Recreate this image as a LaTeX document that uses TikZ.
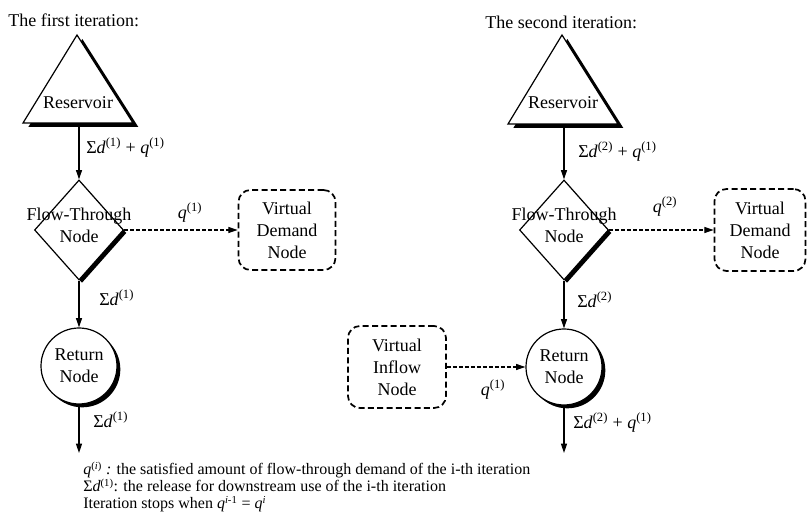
\documentclass[tikz,border=0pt]{standalone}
\usepackage{fontspec}
\setmainfont{Liberation Serif}
\usetikzlibrary{arrows.meta, positioning, shapes.geometric, shadows}

\newcommand{\sumd}[1]{Σ\textit{d}\textsuperscript{(#1)}}
\newcommand{\flowq}[1]{\textit{q}\textsuperscript{(#1)}}

\begin{document}
\begin{tikzpicture}[x=0.75pt, y=0.75pt, >={Triangle[length=7pt, width=4.5pt]},
  every node/.style={font=\fontsize{13.5}{16.5}\selectfont},
  lbl/.style={anchor=west, inner sep=0pt},
  flow/.style={->, line width=0.9pt},
  virtual/.style={->, line width=0.9pt, dash pattern=on 3pt off 1.5pt},
  vbox/.style={draw, line width=1.3pt, dash pattern=on 4.5pt off 2.5pt,
    rounded corners=9pt, align=center, minimum width=72.75pt, minimum height=60pt},
  ftnode/.style={draw, diamond, fill=white, minimum width=66.75pt, minimum height=75pt,
    inner sep=0pt, line width=0.9pt,
    drop shadow={shadow xshift=2.25pt, shadow yshift=-2.25pt, fill=black, opacity=1}},
  retnode/.style={draw, circle, fill=white, align=center, minimum size=57pt,
    inner sep=0pt, line width=0.9pt,
    drop shadow={shadow xshift=2.5pt, shadow yshift=-2.5pt, fill=black, opacity=1}},
  tank/.style={draw, fill=white, line width=0.9pt,
    drop shadow={shadow xshift=4pt, shadow yshift=-3pt, fill=black, opacity=1}}]
  \useasboundingbox (0,0) rectangle (807,528);
  % Left panel: first iteration
  \begin{scope}
    \node[lbl] (title1) at (8,508) {The first iteration:};
    \draw[tank] (77,493) -- (133,405) -- (23,405) -- cycle;
    \node (res1) at (78,425) {Reservoir};
    \coordinate (res1b) at (79,402);
    \node[ftnode] (ft1) at (79,298) {};
    \node[align=center] (ft1t) at (79,303) {Flow-Through\\Node};
    \node[vbox] (dem1) at (287,298) {Virtual\\Demand\\Node};
    \node[retnode] (ret1) at (79,162) {Return\\Node};
    \coordinate (out1) at (79,75);
    \draw[flow] (res1b) -- (ft1.north);
    \draw[virtual] (ft1.east) -- (dem1.west);
    \draw[flow] (ft1.south) -- (ret1.north);
    \draw[flow] (ret1.south) -- (out1);
    \node[lbl] (l1a) at (86,380) {\sumd{1} + \flowq{1}};
    \node (l1b) at (190,315) {\flowq{1}};
    \node[lbl] (l1c) at (99,230) {\sumd{1}};
    \node[lbl] (l1d) at (93,108) {\sumd{1}};
  \end{scope}
  % Right panel: second iteration
  \begin{scope}[xshift=363pt]
    \node[lbl] (title2) at (1,506) {The second iteration:};
    \draw[tank] (78,493) -- (134,404) -- (24,404) -- cycle;
    \node (res2) at (79,425) {Reservoir};
    \coordinate (res2b) at (80,401);
    \node[ftnode] (ft2) at (80,298) {};
    \node[align=center] (ft2t) at (80,303) {Flow-Through\\Node};
    \node[vbox, minimum width=68.25pt, minimum height=61.5pt] (dem2) at (276,298) {Virtual\\Demand\\Node};
    \node[retnode] (ret2) at (80,161) {Return\\Node};
    \node[vbox, minimum width=73.5pt, minimum height=61.5pt] (inf2) at (-87,161) {Virtual\\Inflow\\Node};
    \coordinate (out2) at (80,75);
    \draw[flow] (res2b) -- (ft2.north);
    \draw[virtual] (ft2.east) -- (dem2.west);
    \draw[flow] (ft2.south) -- (ret2.north);
    \draw[virtual] (inf2.east) -- (ret2.west);
    \draw[flow] (ret2.south) -- (out2);
    \node[lbl] (l2a) at (94,376) {\sumd{2} + \flowq{1}};
    \node (l2b) at (181,321) {\flowq{2}};
    \node[lbl] (l2c) at (93,228) {\sumd{2}};
    \node (l2e) at (9,138) {\flowq{1}};
    \node[lbl] (l2d) at (89,105) {\sumd{2} + \flowq{1}};
  \end{scope}
  % Legend
  \node[lbl, align=left, font=\fontsize{12}{12.75}\selectfont] (notes) at (83,41)
    {\flowq{\textit{i}} \textit{:} the satisfied amount of flow-through demand of the i-th iteration\\
     \sumd{1}: the release for downstream use of the i-th iteration\\
     Iteration stops when \textit{q}\textsuperscript{\textit{i}-1} = \textit{q}\textsuperscript{\textit{i}}};
\end{tikzpicture}
\end{document}
